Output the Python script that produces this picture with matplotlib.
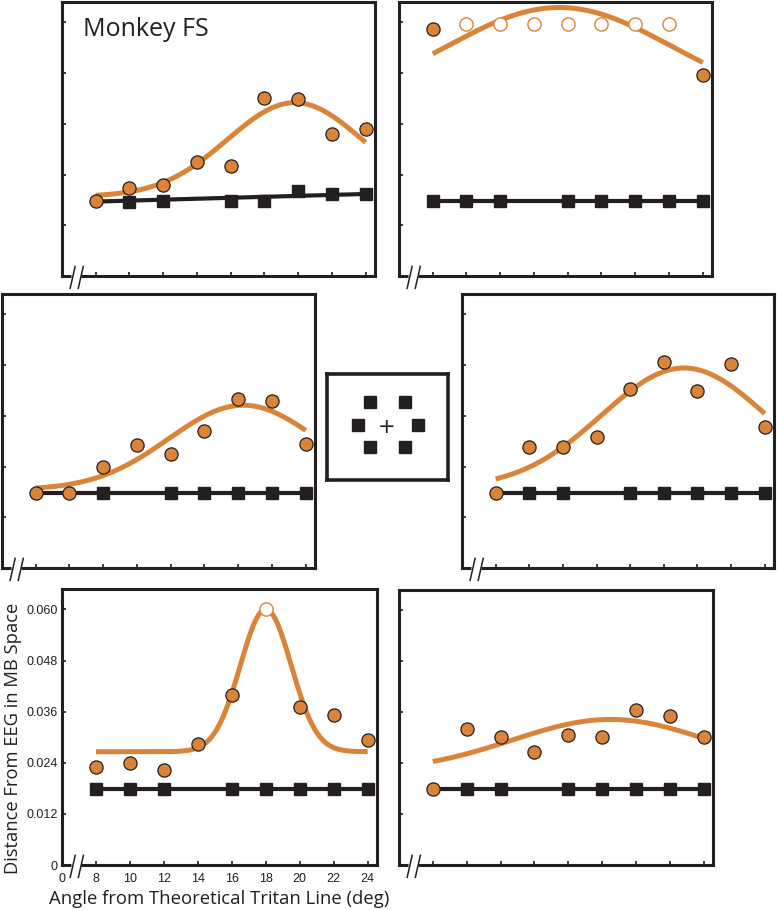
import numpy as np
import matplotlib
matplotlib.use("Agg")
import matplotlib.pyplot as plt

# angles (deg) shared by every panel
angles = [8, 10, 12, 14, 16, 18, 20, 22, 24]

# ---------------- top left (Monkey FS) ----------------
tl_dot_x = [8, 10, 12, 14, 16, 18, 20, 22, 24]
tl_dot_y = [0.0177, 0.0209, 0.0216, 0.0269, 0.0260, 0.0420, 0.0418, 0.0336, 0.0348]
tl_open_x = []
tl_open_y = []
tl_sq_x = [10, 12, 16, 18, 20, 22, 24]
tl_sq_y = [0.0176, 0.0177, 0.0177, 0.0177, 0.0201, 0.0195, 0.0193]
tl_black = [0.0176, 0.0194]                     # linear fit, value at 8 and at 24
tl_fit = [0.0188, 0.0222, 19.8, 4.0]            # base, amplitude, centre, width

# ---------------- top right ----------------
tr_dot_x = [8, 24]
tr_dot_y = [0.0585, 0.0475]
tr_open_x = [10, 12, 14, 16, 18, 20, 22]
tr_open_y = [0.0597, 0.0597, 0.0597, 0.0597, 0.0597, 0.0597, 0.0597]
tr_sq_x = [8, 10, 12, 16, 18, 20, 22, 24]
tr_sq_y = [0.0177, 0.0177, 0.0177, 0.0177, 0.0177, 0.0177, 0.0177, 0.0177]
tr_black = [0.0177, 0.0177]
tr_fit = [0.040, 0.0235, 15.5, 6.7]

# ---------------- middle left ----------------
ml_dot_x = [8, 10, 12, 14, 16, 18, 20, 22, 24]
ml_dot_y = [0.0178, 0.0178, 0.0239, 0.0290, 0.0270, 0.0323, 0.0400, 0.0396, 0.0294]
ml_open_x = []
ml_open_y = []
ml_sq_x = [12, 16, 18, 20, 22, 24]
ml_sq_y = [0.0178, 0.0178, 0.0178, 0.0178, 0.0178, 0.0178]
ml_black = [0.0178, 0.0178]
ml_fit = [0.0185, 0.0200, 20.3, 4.4]

# ---------------- middle right ----------------
mr_dot_x = [8, 10, 12, 14, 16, 18, 20, 22, 24]
mr_dot_y = [0.0177, 0.0287, 0.0286, 0.0310, 0.0423, 0.0487, 0.0418, 0.0483, 0.0333]
mr_open_x = []
mr_open_y = []
mr_sq_x = [10, 12, 16, 18, 20, 22, 24]
mr_sq_y = [0.0178, 0.0178, 0.0178, 0.0178, 0.0178, 0.0178, 0.0178]
mr_black = [0.0178, 0.0178]
mr_fit = [0.019, 0.0283, 19.2, 4.9]

# ---------------- bottom left ----------------
bl_dot_x = [8, 10, 12, 14, 16, 20, 22, 24]
bl_dot_y = [0.0229, 0.0239, 0.0224, 0.0284, 0.0400, 0.0371, 0.0353, 0.0294]
bl_open_x = [18]
bl_open_y = [0.060]
bl_sq_x = [8, 10, 12, 16, 18, 20, 22, 24]
bl_sq_y = [0.0179, 0.0179, 0.0179, 0.0179, 0.0179, 0.0179, 0.0179, 0.0179]
bl_black = [0.0179, 0.0179]
bl_fit = [0.0266, 0.0334, 18.0, 1.5]

# ---------------- bottom right ----------------
br_dot_x = [8, 10, 12, 14, 16, 18, 20, 22, 24]
br_dot_y = [0.0180, 0.0321, 0.0302, 0.0266, 0.0306, 0.0302, 0.0366, 0.0351, 0.0302]
br_open_x = []
br_open_y = []
br_sq_x = [10, 12, 16, 18, 20, 22, 24]
br_sq_y = [0.0180, 0.0180, 0.0180, 0.0180, 0.0180, 0.0180, 0.0180]
br_black = [0.0180, 0.0180]
br_fit = [0.022, 0.0123, 18.5, 5.8]

yticks = [0, 0.012, 0.024, 0.036, 0.048, 0.060]
ytick_labels = ['0', '0.012', '0.024', '0.036', '0.048', '0.060']
xticks = [6, 8, 10, 12, 14, 16, 18, 20, 22, 24]
xtick_labels = ['0', '8', '10', '12', '14', '16', '18', '20', '22', '24']

# stimulus layout sketch in the centre box
stim_x = [0.355, 0.645, 0.256, 0.752, 0.355, 0.645]
stim_y = [0.736, 0.736, 0.519, 0.519, 0.311, 0.311]

#-------------------------------------------------------------------------------

ORANGE = '#DA843A'
DARK = '#231F20'
W, H = 777, 910

fig = plt.figure(figsize=(W / 100, H / 100), dpi=100)


def add_axes_px(x0, y0, x1, y1):
    return fig.add_axes([x0 / W, 1 - y1 / H, (x1 - x0) / W, (y1 - y0) / H])


def panel(ax, dot_x, dot_y, open_x, open_y, sq_x, sq_y, black, fit, labels=False):
    xf = np.linspace(angles[0], angles[-1], 300)
    yf = fit[0] + fit[1] * np.exp(-(xf - fit[2]) ** 2 / (2 * fit[3] ** 2))

    ax.plot([angles[0], angles[-1]], black, color=DARK, lw=3.0, zorder=2,
            solid_capstyle='butt')
    ax.plot(sq_x, sq_y, 's', color=DARK, ms=8, zorder=3, linestyle='none')
    ax.plot(xf, yf, color=ORANGE, lw=3.6, zorder=4, solid_capstyle='butt')
    ax.plot(dot_x, dot_y, 'o', mfc=ORANGE, mec=DARK, mew=0.9, ms=9.5,
            zorder=5, linestyle='none', clip_on=False)
    ax.plot(open_x, open_y, 'o', mfc='white', mec=ORANGE, mew=1.0, ms=9.5,
            zorder=5, linestyle='none', clip_on=False)

    ax.set_xlim(6, 24.55)
    ax.set_ylim(0, 0.0648)
    for s in ax.spines.values():
        s.set_linewidth(2.2)
        s.set_color(DARK)
    ax.tick_params(direction='in', length=3, width=1.2, color=DARK,
                   labelsize=9, pad=3)
    ax.set_yticks(yticks[1:])
    ax.set_xticks(xticks[1:])
    if labels:
        ax.set_yticks(yticks)
        ax.set_yticklabels(ytick_labels, family='Liberation Sans', color=DARK)
        ax.set_xticks(xticks)
        ax.set_xticklabels(xtick_labels, family='Liberation Sans', color=DARK)
        ax.tick_params(axis='x', pad=6)
    else:
        ax.set_yticklabels([])
        ax.set_xticklabels([])

    # axis break marks at the lower left corner
    ax.plot([0.028, 0.060], [0, 0], transform=ax.transAxes, color='white',
            lw=3.5, clip_on=False, zorder=10, solid_capstyle='butt')
    for dx in [0.026, 0.052]:
        ax.plot([dx, dx + 0.016], [-0.045, 0.035], transform=ax.transAxes,
                color=DARK, lw=1.1, clip_on=False, zorder=11)


ax_tl = add_axes_px(62, 2, 375, 276)
panel(ax_tl, tl_dot_x, tl_dot_y, tl_open_x, tl_open_y, tl_sq_x, tl_sq_y, tl_black, tl_fit)
ax_tl.text(0.068, 0.90, 'Monkey FS', transform=ax_tl.transAxes, fontsize=18,
           family='Open Sans', color=DARK, va='center', ha='left')

ax_tr = add_axes_px(399, 2, 712, 276)
panel(ax_tr, tr_dot_x, tr_dot_y, tr_open_x, tr_open_y, tr_sq_x, tr_sq_y, tr_black, tr_fit)

ax_ml = add_axes_px(2, 294, 315, 568)
panel(ax_ml, ml_dot_x, ml_dot_y, ml_open_x, ml_open_y, ml_sq_x, ml_sq_y, ml_black, ml_fit)

ax_mr = add_axes_px(462, 294, 774, 568)
panel(ax_mr, mr_dot_x, mr_dot_y, mr_open_x, mr_open_y, mr_sq_x, mr_sq_y, mr_black, mr_fit)

ax_bl = add_axes_px(62, 589, 377, 865)
panel(ax_bl, bl_dot_x, bl_dot_y, bl_open_x, bl_open_y, bl_sq_x, bl_sq_y, bl_black, bl_fit,
      labels=True)
ax_bl.set_ylabel('Distance From EEG in MB Space', family='Open Sans', fontsize=13.2,
                 color=DARK)
ax_bl.yaxis.set_label_coords(-0.128, 0.46)
ax_bl.set_xlabel('Angle from Theoretical Tritan Line (deg)', family='Open Sans',
                 fontsize=13.3, color=DARK, labelpad=3)

ax_br = add_axes_px(399, 590, 713, 865)
panel(ax_br, br_dot_x, br_dot_y, br_open_x, br_open_y, br_sq_x, br_sq_y, br_black, br_fit)

# centre box: stimulus layout
ax_in = add_axes_px(327, 374, 448, 480)
ax_in.plot(stim_x, stim_y, 's', color=DARK, ms=9, linestyle='none')
ax_in.text(0.496, 0.50, '+', fontsize=15, ha='center', va='center', color=DARK,
           family='DejaVu Sans')
ax_in.set_xlim(0, 1)
ax_in.set_ylim(0, 1)
ax_in.set_xticks([])
ax_in.set_yticks([])
for s in ax_in.spines.values():
    s.set_linewidth(2.6)
    s.set_color(DARK)

plt.savefig('out.png', dpi=100)
